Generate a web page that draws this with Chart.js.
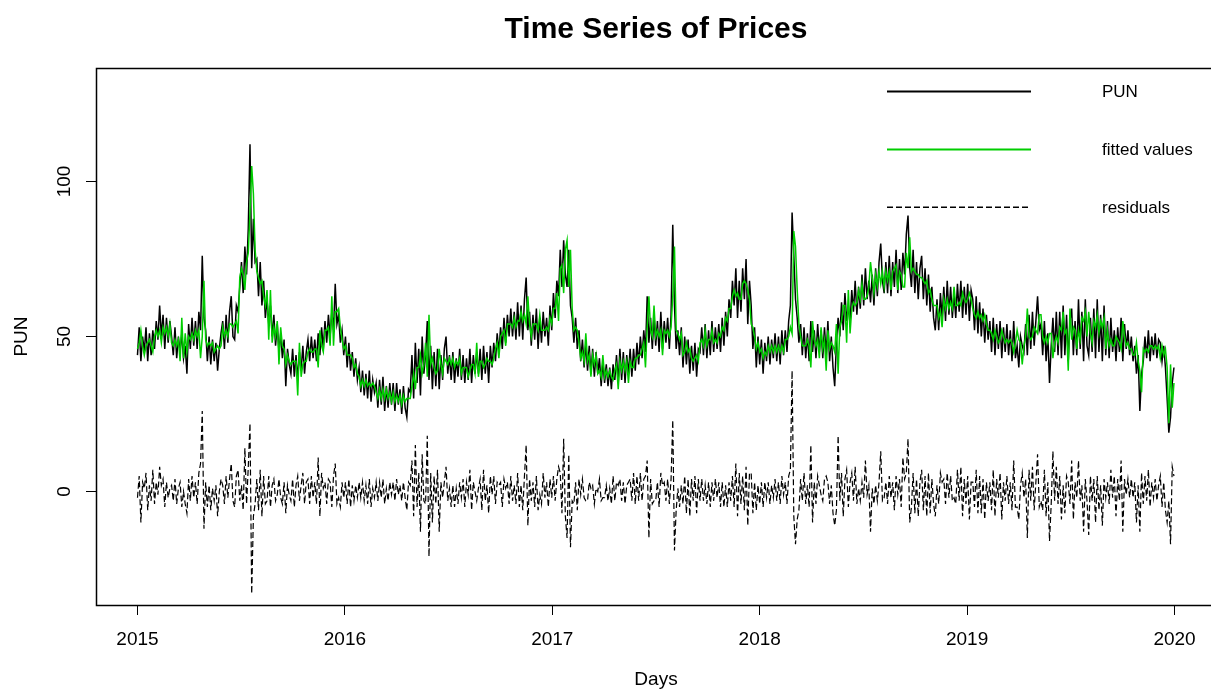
<!DOCTYPE html>
<html>
<head>
<meta charset="utf-8">
<title>Time Series of Prices</title>
<script src="https://cdn.jsdelivr.net/npm/chart.js@4.4.1/dist/chart.umd.min.js"></script>
<style>
  html, body { margin: 0; padding: 0; background: #fff; overflow: hidden; }
  canvas { display: block; }
</style>
</head>
<body>
<canvas id="chart" width="1216" height="691"></canvas>
<script>
// Daily PUN series 2015-2019, one value every 3 days.
const startYear = 2015;
const stepDays = 3;
const yearTicks = [2015, 2016, 2017, 2018, 2019, 2020];
const valueTicks = [0, 50, 100];
const seriesNames = ['PUN', 'fitted values', 'residuals'];

// Observed price (rows of ~30 days)
const pun = [
  44,53,42,50,45,53,42,51,44,52,
  46,55,49,60,50,57,46,56,48,55,
  50,44,53,43,50,45,51,43,47,38,
  54,46,56,47,55,46,58,52,76,56,
  52,42,50,41,49,42,48,39,46,51,
  55,46,57,48,58,63,50,49,60,58,
  66,74,64,79,70,85,112,72,88,74,
  75,63,74,60,68,56,62,54,60,50,
  57,47,54,45,51,43,49,34,46,41,
  38,46,37,44,36,45,39,47,38,45,
  49,42,50,43,49,42,51,44,53,46,
  55,48,57,50,58,52,67,54,57,48,
  52,44,50,40,48,39,45,37,43,36,
  40,32,39,31,38,30,39,29,36,32,
  35,27,36,28,37,26,34,27,35,28,
  35,26,35,28,33,25,34,27,24,33,
  32,44,30,48,35,46,31,50,38,44,
  55,36,47,33,45,34,46,33,44,36,
  46,50,38,44,36,45,35,43,37,46,
  36,44,35,43,36,46,35,44,38,45,
  38,46,36,47,38,45,35,47,40,48,
  42,51,45,53,46,56,48,57,50,59,
  50,58,49,61,50,60,49,62,69,52,
  58,47,57,49,59,46,56,48,58,50,
  56,47,60,52,64,56,68,63,78,66,
  81,70,66,78,60,56,48,56,46,52,
  42,49,40,48,39,47,38,46,37,45,
  38,43,34,42,35,41,34,40,33,41,
  36,44,35,46,36,45,35,44,38,46,
  37,46,39,48,41,50,43,52,45,63,
  48,56,46,57,47,55,45,58,46,55,
  48,56,46,57,86,60,46,52,44,53,
  40,50,41,49,38,47,39,48,37,46,
  45,53,44,54,43,52,44,55,45,53,
  46,54,45,56,47,58,50,62,56,68,
  60,72,56,68,58,72,62,75,54,68,
  60,46,53,40,50,41,49,38,48,42,
  50,41,49,43,51,42,50,41,52,44,
  52,45,55,60,90,76,62,56,48,54,
  44,53,43,51,42,55,45,52,43,54,
  45,52,43,53,44,55,42,50,40,34,
  48,56,50,61,52,64,55,60,54,65,
  58,68,57,66,59,70,60,72,62,68,
  61,70,60,72,63,74,80,68,64,74,
  64,76,63,74,66,78,64,75,65,77,
  70,83,89,72,66,78,64,74,62,72,
  76,62,72,60,70,58,66,56,52,62,
  52,64,56,66,55,68,57,66,56,64,
  56,67,58,68,56,66,57,67,55,65,
  62,52,63,51,61,50,59,48,57,49,
  55,45,56,44,54,46,55,43,53,45,
  54,44,52,42,55,43,47,40,50,47,
  45,54,44,57,46,58,47,55,63,52,
  54,44,55,42,51,35,47,56,45,58,
  44,58,43,60,44,57,42,55,59,44,
  55,44,62,46,58,42,62,47,44,56,
  45,59,43,62,45,57,42,60,44,55,
  43,56,45,52,42,53,45,56,42,54,
  46,52,44,50,42,47,38,44,26,38,
  42,50,43,52,42,50,44,51,43,49,
  48,42,47,40,30,19,24,35,40
];

// Model residuals at the same dates
const residuals = [
  -2,5,-10,3,1,6,-6,2,-3,7,
  -4,3,-1,8,2,4,-5,3,-2,1,
  2,-3,4,-4,1,3,-5,0,-4,-7,
  4,-3,5,-2,3,-4,6,9,26,-12,
  3,-5,2,-6,1,-3,2,-8,0,4,
  2,-4,5,-2,4,9,-3,-5,5,7,
  -3,2,-6,14,-4,8,22,-33,-8,-4,
  4,-6,7,-8,5,-4,-3,5,-5,2,
  4,-3,-1,4,-2,-4,3,-7,2,-1,
  -3,4,-5,2,5,-3,2,6,-4,3,
  4,-4,5,-2,3,-4,11,-8,6,1,
  3,-4,4,3,-5,5,9,-4,-2,-5,
  3,-2,3,-4,4,-5,2,-3,2,-2,
  3,-2,3,-3,2,-4,4,-5,1,-2,
  3,-3,3,-2,4,-4,1,-3,3,-1,
  3,-3,4,-1,2,-3,3,-2,-6,3,
  2,10,-8,15,-5,6,-13,12,-3,-4,
  18,-21,6,-10,5,-4,7,-13,3,-2,
  3,8,-3,1,-5,2,-5,1,-4,3,
  -2,4,-5,3,-1,7,-6,3,0,-3,
  1,4,-6,7,-3,2,-7,5,-1,5,
  -4,3,2,3,-5,4,1,3,-4,5,
  -3,2,-4,6,-5,2,-6,5,15,-11,
  4,-3,3,-5,5,-6,-1,-4,6,-2,
  3,-5,4,-2,5,-3,4,8,6,-7,
  17,-8,-15,12,-18,-3,-4,3,-6,4,
  -1,4,-2,-3,-3,3,1,2,-4,1,
  0,4,-3,-2,-2,2,-3,1,-4,5,
  -3,3,2,4,-3,3,-4,2,3,4,
  -3,6,-4,5,-3,6,-3,4,5,10,
  -15,4,-4,-3,-3,3,-5,6,2,3,
  -3,4,-4,4,23,-19,-6,1,-5,2,
  -4,5,-7,4,-8,4,-3,5,-7,4,
  -3,4,-3,2,-4,3,-5,3,-3,4,
  -2,3,-5,3,-5,2,-5,3,-3,5,
  -5,9,-8,6,-4,5,-6,8,-11,6,
  6,-7,3,-6,2,-4,3,-5,3,-2,
  3,-4,2,-2,4,-3,3,-4,5,-1,
  3,-4,5,7,39,-8,-17,-9,-6,4,
  -3,6,-4,2,-5,15,-10,3,-4,5,
  2,-1,-3,4,5,3,-4,2,-7,-11,
  -6,18,-3,6,-8,4,7,-5,3,6,
  -3,8,-4,1,-3,3,-2,10,-1,2,
  -13,1,-4,2,-3,3,13,-3,-2,3,
  -4,5,-2,3,-6,5,-1,4,-5,11,
  4,6,17,-10,-5,6,-7,4,-8,3,
  7,-6,5,-8,6,-7,4,-4,-8,2,
  -4,6,3,4,-4,6,-2,5,-3,-2,
  -4,7,-3,8,-8,4,-4,5,-9,3,
  3,-5,7,-7,5,-7,4,-9,3,-3,
  3,-6,7,-8,4,-2,6,-9,3,-3,
  5,-4,3,-6,10,-5,-5,-9,2,6,
  -2,4,-15,7,-3,8,-6,3,12,-5,
  -3,-6,7,-8,3,-16,-4,13,-3,8,
  -4,5,-9,2,-7,5,3,-4,10,-9,
  3,-2,10,-3,2,-13,4,-3,-14,5,
  -3,4,-10,5,-6,2,-11,4,-2,3,
  -4,7,-2,5,-8,4,-3,10,-13,4,
  -1,4,-2,4,-2,3,-10,2,-13,6,
  -4,5,-3,7,-5,3,-2,4,-3,2,
  5,-5,3,-6,-10,-3,-17,8,5
];

// Fitted values: observed price minus residual
const fitted = pun.map((v, i) => v - residuals[i]);

const timeOf = i => startYear + (i * stepDays) / 365;
const toPoints = arr => arr.map((v, i) => ({ x: timeOf(i), y: v }));

const FONT = '"Liberation Sans", Arial, Helvetica, sans-serif';
const GREEN = '#00CD00';
const DASH = [6, 3];
const LINE_W = 1.5;

const annotate = {
  id: 'annotate',
  afterDraw(chart) {
    const { ctx, chartArea: a, scales } = chart;
    const xs = scales.x, ys = scales.y;
    ctx.save();
    // plot frame
    ctx.strokeStyle = '#000';
    ctx.lineWidth = 1.5;
    ctx.setLineDash([]);
    ctx.strokeRect(a.left + 0.5, a.top + 0.5, a.right - a.left, a.bottom - a.top);

    ctx.fillStyle = '#000';
    // title
    ctx.font = 'bold 30px ' + FONT;
    ctx.textAlign = 'center';
    ctx.textBaseline = 'alphabetic';
    ctx.fillText('Time Series of Prices', (a.left + a.right) / 2, 38);

    // x tick labels and title
    ctx.font = '19px ' + FONT;
    ctx.textBaseline = 'middle';
    xs.ticks.forEach(t => ctx.fillText(String(t.value), xs.getPixelForValue(t.value), 640));
    ctx.fillText('Days', (a.left + a.right) / 2, 680);

    // y tick labels (rotated) and title
    ys.ticks.forEach(t => {
      ctx.save();
      ctx.translate(65, ys.getPixelForValue(t.value));
      ctx.rotate(-Math.PI / 2);
      ctx.fillText(String(t.value), 0, 0);
      ctx.restore();
    });
    ctx.save();
    ctx.translate(22, (a.top + a.bottom) / 2);
    ctx.rotate(-Math.PI / 2);
    ctx.fillText('PUN', 0, 0);
    ctx.restore();

    // legend
    const rows = [
      { name: seriesNames[0], color: '#000000', dashed: false, y: 91 },
      { name: seriesNames[1], color: GREEN, dashed: false, y: 149 },
      { name: seriesNames[2], color: '#000000', dashed: true, y: 207 }
    ];
    ctx.font = '17px ' + FONT;
    ctx.textAlign = 'left';
    rows.forEach(r => {
      ctx.fillStyle = r.color;
      if (r.dashed) {
        for (let sx = 887; sx < 1031; sx += DASH[0] + DASH[1]) {
          ctx.fillRect(sx, r.y - 0.5, Math.min(DASH[0], 1031 - sx), 1.5);
        }
      } else {
        ctx.fillRect(887, r.y - 0.5, 144, 2);
      }
      ctx.fillStyle = '#000';
      ctx.fillText(r.name, 1102, r.y + 1);
    });
    ctx.restore();
  }
};

new Chart(document.getElementById('chart'), {
  type: 'line',
  data: {
    datasets: [
      { label: seriesNames[0], data: toPoints(pun), borderColor: '#000', borderWidth: LINE_W,
        pointRadius: 0, tension: 0, order: 3 },
      { label: seriesNames[1], data: toPoints(fitted), borderColor: GREEN, borderWidth: LINE_W,
        pointRadius: 0, tension: 0, order: 2 },
      { label: seriesNames[2], data: toPoints(residuals), borderColor: '#000', borderWidth: 1.2,
        borderDash: DASH, pointRadius: 0, tension: 0, order: 1 }
    ]
  },
  options: {
    responsive: false,
    animation: false,
    events: [],
    layout: { padding: { top: 68, left: 0, right: 0, bottom: 0 } },
    plugins: { legend: { display: false }, tooltip: { enabled: false }, title: { display: false } },
    scales: {
      x: {
        type: 'linear',
        min: 2014.8,
        max: 2020.2,
        afterBuildTicks: s => { s.ticks = yearTicks.map(v => ({ value: v })); },
        afterFit: s => { s.height = 86; },
        ticks: { display: false },
        border: { display: false },
        grid: { drawOnChartArea: false, drawTicks: true, tickLength: 10, color: '#000', lineWidth: 1 }
      },
      y: {
        type: 'linear',
        min: -36.6,
        max: 136.6,
        afterBuildTicks: s => { s.ticks = valueTicks.map(v => ({ value: v })); },
        afterFit: s => { s.width = 96; },
        ticks: { display: false },
        border: { display: false },
        grid: { drawOnChartArea: false, drawTicks: true, tickLength: 10, color: '#000', lineWidth: 1 }
      }
    }
  },
  plugins: [annotate]
});
</script>
</body>
</html>
